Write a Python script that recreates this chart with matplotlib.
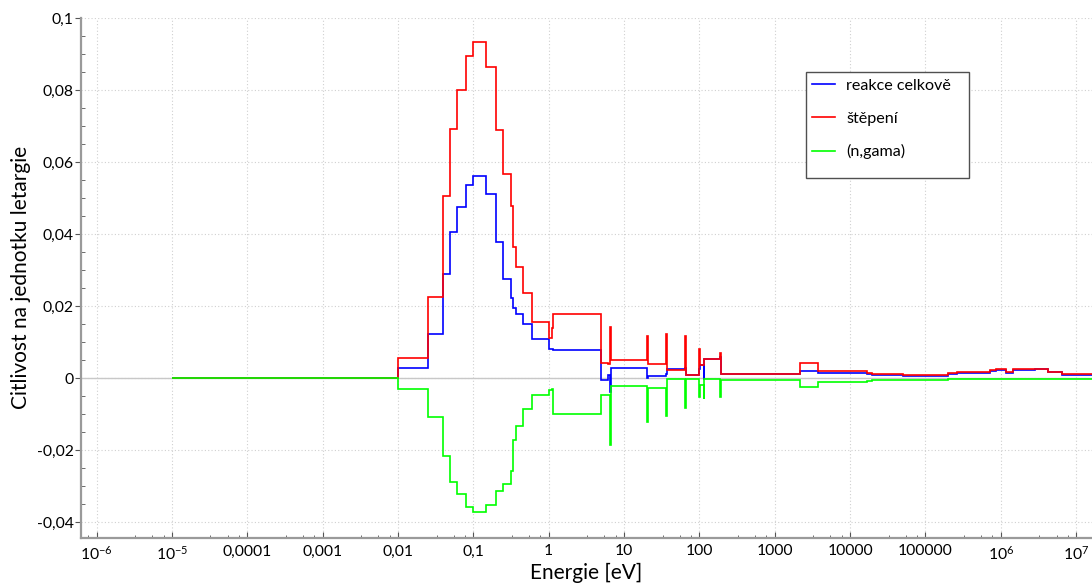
import numpy as np
import matplotlib
matplotlib.use('Agg')
import matplotlib.pyplot as plt
from matplotlib.ticker import FixedLocator, FixedFormatter
from matplotlib.patches import Rectangle

plt.rcParams['font.family'] = ['Lato', 'DejaVu Sans']

# hranice grup (eV) a hodnoty citlivosti v kazde grupe
energy_edges = [1e-5, 0.01, 0.025, 0.04, 0.049, 0.06, 0.08, 0.1, 0.148, 0.2,
                0.25, 0.32, 0.34, 0.365, 0.45, 0.61, 1.0, 1.1, 1.15, 4.9,
                6.2, 6.55, 6.8, 20.2, 21.0, 35.8, 37.0, 65.5, 67.5, 99.5,
                102, 114.5, 117, 187, 193, 2200, 3700, 16600, 19500, 50000,
                2.02e5, 2.6e5, 5.9e5, 7.2e5, 8.7e5, 1.17e6, 1.47e6, 2.85e6, 4.3e6, 6.5e6,
                2.0e7]

total = [0, 0.0028, 0.0122, 0.0289, 0.0407, 0.0477, 0.0537, 0.0563, 0.0511, 0.0379,
         0.0275, 0.0224, 0.0196, 0.0179, 0.0151, 0.0109, 0.0083, 0.0081, 0.0079, -0.0005,
         0.0009, -0.0037, 0.0028, 0.0002, 0.0006, 0.0012, 0.0025, 0.0030, 0.0009, 0.0025,
         0.0037, -0.0004, 0.0054, 0.0060, 0.0012, 0.0020, 0.0014, 0.0012, 0.0009, 0.0006,
         0.0012, 0.0015, 0.0016, 0.0021, 0.0023, 0.0015, 0.0023, 0.0025, 0.0017, 0.0010]

fission = [0, 0.0057, 0.0227, 0.0507, 0.0694, 0.0801, 0.0895, 0.0935, 0.0864, 0.0690,
           0.0569, 0.0480, 0.0366, 0.0310, 0.0236, 0.0156, 0.0111, 0.0140, 0.0180, 0.0042,
           0.0039, 0.0143, 0.0051, 0.0118, 0.0040, 0.0123, 0.0022, 0.0118, 0.0009, 0.0081,
           0.0037, 0.0045, 0.0054, 0.0071, 0.0013, 0.0043, 0.0020, 0.0016, 0.0011, 0.0009,
           0.0014, 0.0017, 0.0018, 0.0023, 0.0025, 0.0017, 0.0025, 0.0027, 0.0019, 0.0011]

capture = [0, -0.0030, -0.0107, -0.0216, -0.0287, -0.0322, -0.0357, -0.0372, -0.0352, -0.0313,
           -0.0294, -0.0257, -0.0171, -0.0132, -0.0086, -0.0046, -0.0033, -0.0030, -0.0099, -0.0046,
           -0.0046, -0.0185, -0.0021, -0.0121, -0.0028, -0.0105, -0.0001, -0.0082, -0.0002, -0.0053,
           -0.0019, -0.0058, -0.0001, -0.0051, -0.0005, -0.0023, -0.0009, -0.0006, -0.0005, -0.0004,
           -0.0003, -0.0003, -0.0002, -0.0002, -0.0002, -0.0001, -0.0001, -0.0001, -0.0001, -0.0001]

xtick_values = [1e-6, 1e-5, 1e-4, 1e-3, 1e-2, 1e-1, 1, 10, 100, 1e3, 1e4, 1e5, 1e6, 1e7]
xtick_labels = ['$\\mathregular{10^{-6}}$', '$\\mathregular{10^{-5}}$', '0,0001', '0,001',
                '0,01', '0,1', '1', '10', '100', '1000', '10000', '100000',
                '$\\mathregular{10^{6}}$', '$\\mathregular{10^{7}}$']
ytick_values = [-0.04, -0.02, 0, 0.02, 0.04, 0.06, 0.08, 0.1]
ytick_labels = ['-0,04', '-0,02', '0', '0,02', '0,04', '0,06', '0,08', '0,1']

fig = plt.figure(figsize=(10.92, 5.83), dpi=100)
ax = fig.add_axes([0.0739, 0.0780, 0.9261, 0.8911])

ax.axhline(0, color='#c8c8c8', lw=1.0, zorder=1)
ax.stairs(total, energy_edges, baseline=None, color='#0000ff', lw=1.2, label='reakce celkově', zorder=3)
ax.stairs(fission, energy_edges, baseline=None, color='#ff0000', lw=1.2, label='štěpení', zorder=4)
ax.stairs(capture, energy_edges, baseline=None, color='#00ff00', lw=1.2, label='(n,gama)', zorder=5)

ax.set_xscale('log')
ax.set_xlim(10 ** -6.21, 10 ** 7.211)
ax.set_ylim(-0.0442, 0.1001)

ax.xaxis.set_major_locator(FixedLocator(xtick_values))
ax.xaxis.set_major_formatter(FixedFormatter(xtick_labels))
minor_x = [m * 10.0 ** k for k in range(-7, 8) for m in (3.25, 5.5, 7.75)]
ax.xaxis.set_minor_locator(FixedLocator(minor_x))
ax.xaxis.set_minor_formatter(FixedFormatter([''] * len(minor_x)))
ax.yaxis.set_major_locator(FixedLocator(ytick_values))
ax.yaxis.set_major_formatter(FixedFormatter(ytick_labels))
ax.yaxis.set_minor_locator(FixedLocator(np.arange(-0.045, 0.1001, 0.005)))

ax.grid(True, which='major', color='#d0d0d0', linestyle=(0, (1, 2)), lw=0.8)
ax.set_axisbelow(True)

for s in ['top', 'right']:
    ax.spines[s].set_visible(False)
for s in ['left', 'bottom']:
    ax.spines[s].set_color('#9a9a9a')
    ax.spines[s].set_linewidth(1.6)

ax.tick_params(axis='x', which='major', direction='in', length=4, color='#555555', labelsize=11.3, pad=5)
ax.tick_params(axis='x', which='minor', direction='in', length=2, color='#555555')
ax.tick_params(axis='y', which='major', direction='out', length=4, color='#555555', labelsize=11.3, pad=1)
ax.tick_params(axis='y', which='minor', direction='in', length=3, color='#555555')

ax.set_xlabel('Energie [eV]', fontsize=15, labelpad=0)
ax.set_ylabel('Citlivost na jednotku letargie', fontsize=15, labelpad=4)

# ramecek legendy kreslim zvlast, aby sedela vyska
ax.add_patch(Rectangle((0.7169, 0.6914), 0.1615, 0.2041, transform=ax.transAxes,
                       facecolor='white', edgecolor='#505050', lw=1.0, zorder=6))
leg = ax.legend(loc='upper left', bbox_to_anchor=(0.7169, 0.8955), frameon=False,
                fontsize=11.6, handlelength=1.4, handletextpad=0.7, labelspacing=1.15,
                borderpad=0.4, borderaxespad=0)
leg.set_zorder(7)

fig.savefig('out.png', dpi=100)
